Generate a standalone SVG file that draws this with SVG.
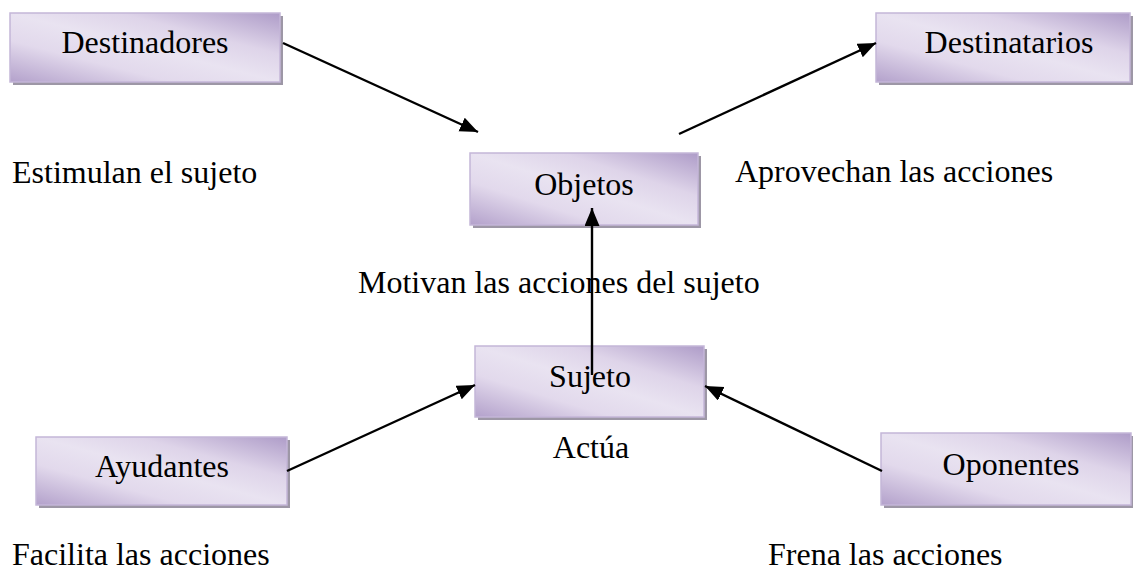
<svg xmlns="http://www.w3.org/2000/svg" width="1133" height="573" viewBox="0 0 1133 573">
<defs>
<linearGradient id="g" x1="0" y1="1" x2="1" y2="0">
<stop offset="0" stop-color="#b3a1cb"/>
<stop offset="0.3" stop-color="#e2d9ec"/>
<stop offset="0.5" stop-color="#e9e3f1"/>
<stop offset="0.7" stop-color="#ded4e9"/>
<stop offset="1" stop-color="#ae9cc8"/>
</linearGradient>
<marker id="ah" markerUnits="userSpaceOnUse" markerWidth="20" markerHeight="16" refX="18" refY="7.5" orient="auto">
<path d="M0,0 L18,7.5 L0,15 z" fill="#000"/>
</marker>
</defs>
<style>
.sh{fill:#9d97a6}
.bx{fill:url(#g);stroke:#c4b6d8;stroke-width:1.5}
.t{font-family:"Liberation Serif","Times New Roman",serif;font-size:32px;fill:#000}
.c{text-anchor:middle}
.ln{stroke:#000;stroke-width:2.4;fill:none;marker-end:url(#ah)}
</style>
<rect width="1133" height="573" fill="#fff"/>
<g id="destinadores">
<rect class="sh" x="13" y="16" width="270" height="69"/>
<rect class="bx" x="10" y="13" width="270" height="69"/>
<text class="t c" x="145" y="53">Destinadores</text>
</g>
<g id="destinatarios">
<rect class="sh" x="879" y="16" width="254" height="69"/>
<rect class="bx" x="876" y="13" width="254" height="69"/>
<text class="t c" x="1009" y="53">Destinatarios</text>
</g>
<g id="objetos">
<rect class="sh" x="473" y="156" width="228" height="72"/>
<rect class="bx" x="470" y="153" width="228" height="72"/>
<text class="t c" x="584" y="195">Objetos</text>
</g>
<g id="sujeto">
<rect class="sh" x="478" y="349" width="229" height="71"/>
<rect class="bx" x="475" y="346" width="229" height="71"/>
<text class="t c" x="590" y="387">Sujeto</text>
</g>
<g id="ayudantes">
<rect class="sh" x="39" y="440" width="251" height="68"/>
<rect class="bx" x="36" y="437" width="251" height="68"/>
<text class="t c" x="162" y="477">Ayudantes</text>
</g>
<g id="oponentes">
<rect class="sh" x="884" y="436" width="250" height="72"/>
<rect class="bx" x="881" y="433" width="250" height="72"/>
<text class="t c" x="1011" y="475">Oponentes</text>
</g>
<g id="connectors">
<line class="ln" x1="283" y1="43" x2="478" y2="132"/>
<line class="ln" x1="679" y1="134" x2="876" y2="43"/>
<line class="ln" x1="592" y1="375" x2="592" y2="208"/>
<line class="ln" x1="287" y1="471" x2="475" y2="385"/>
<line class="ln" x1="882" y1="471" x2="705" y2="386"/>
</g>
<g id="labels">
<text class="t" x="12" y="183">Estimulan el sujeto</text>
<text class="t" x="735" y="182">Aprovechan las acciones</text>
<text class="t" x="358" y="293">Motivan las acciones del sujeto</text>
<text class="t c" x="591" y="458">Actúa</text>
<text class="t" x="12" y="565">Facilita las acciones</text>
<text class="t" x="768" y="565">Frena las acciones</text>
</g>
</svg>
